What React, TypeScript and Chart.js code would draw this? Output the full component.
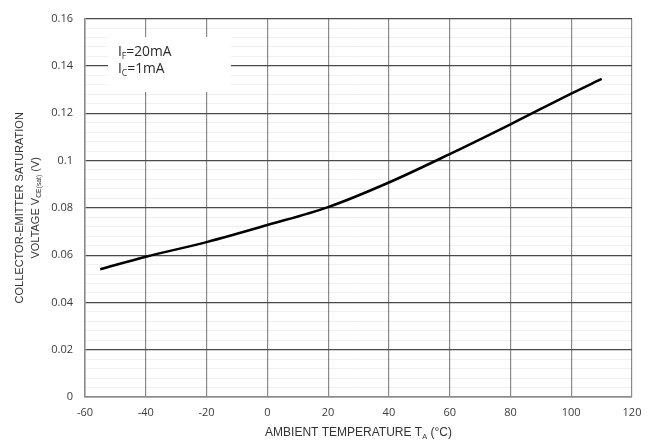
import React, { useEffect, useRef } from "react";
import { Chart, registerables } from "chart.js";

Chart.register(...registerables);

const temperature = [-55, -40, -20, 0, 20, 40, 60, 80, 100, 110];
const vceSat = [0.054, 0.0593, 0.0655, 0.0727, 0.0803, 0.0907, 0.1027, 0.1153, 0.1283, 0.1345];
const xTicks = { min: -60, max: 120, step: 20 };
const yTicks = { min: 0, max: 0.16, step: 0.02, minorStep: 0.004 };
const legendLines = [
  [["I", false], ["F", true], ["=20mA", false]],
  [["I", false], ["C", true], ["=1mA", false]],
] as [string, boolean][][];
const yTitle1 = [["COLLECTOR-EMITTER SATURATION", false]] as [string, boolean][];
const yTitle2 = [["VOLTAGE V", false], ["CE(sat)", true], [" (V)", false]] as [string, boolean][];
const xTitle = [["AMBIENT TEMPERATURE T", false], ["A", true], [" (°C)", false]] as [string, boolean][];

const TITLE_FONT = '"Liberation Sans Narrow", "Liberation Sans", sans-serif';
const TEXT_FONT = '"Open Sans", "Liberation Sans", sans-serif';

function drawRich(
  ctx: CanvasRenderingContext2D,
  parts: [string, boolean][],
  x: number,
  y: number,
  size: number,
  family: string,
  align: "left" | "center"
) {
  const subSize = size * 0.62;
  let total = 0;
  const widths = parts.map(([t, sub]) => {
    ctx.font = `${sub ? subSize : size}px ${family}`;
    const w = ctx.measureText(t).width;
    total += w;
    return w;
  });
  let cx = align === "center" ? x - total / 2 : x;
  ctx.textBaseline = "alphabetic";
  ctx.textAlign = "left";
  parts.forEach(([t, sub], i) => {
    ctx.font = `${sub ? subSize : size}px ${family}`;
    ctx.fillText(t, cx, sub ? y + size * 0.22 : y);
    cx += widths[i];
  });
}

const isMajor = (v: number) => Math.round(v * 1000) % 20 === 0;

export default function App() {
  const ref = useRef<HTMLCanvasElement>(null);
  useEffect(() => {
    document.body.style.margin = "0";
    const canvas = ref.current!;
    const overlay = {
      id: "overlay",
      beforeDatasetsDraw(chart: any) {
        const ctx = chart.ctx as CanvasRenderingContext2D;
        ctx.save();
        ctx.fillStyle = "#ffffff";
        ctx.fillRect(108, 37, 123, 55);
        ctx.fillStyle = "#2a2a2a";
        drawRich(ctx, legendLines[0], 118, 56, 13.8, TEXT_FONT, "left");
        drawRich(ctx, legendLines[1], 118, 73, 13.8, TEXT_FONT, "left");
        ctx.restore();
      },
      afterDraw(chart: any) {
        const ctx = chart.ctx as CanvasRenderingContext2D;
        const a = chart.chartArea;
        const cy = (a.top + a.bottom) / 2;
        ctx.save();
        ctx.fillStyle = "#333";
        ctx.translate(23, cy);
        ctx.rotate(-Math.PI / 2);
        drawRich(ctx, yTitle1, 0, 0, 11, TITLE_FONT, "center");
        ctx.restore();
        ctx.save();
        ctx.fillStyle = "#333";
        ctx.translate(39, cy);
        ctx.rotate(-Math.PI / 2);
        drawRich(ctx, yTitle2, 0, 0, 11, TITLE_FONT, "center");
        ctx.restore();
        ctx.save();
        ctx.fillStyle = "#333";
        drawRich(ctx, xTitle, (a.left + a.right) / 2, 436, 12, TITLE_FONT, "center");
        ctx.restore();
      },
    };
    const chart = new Chart(canvas, {
      type: "scatter",
      data: {
        datasets: [
          {
            data: temperature.map((t, i) => ({ x: t, y: vceSat[i] })),
            showLine: true,
            borderColor: "#000",
            borderWidth: 2.5,
            pointRadius: 0,
            tension: 0.4,
            cubicInterpolationMode: "monotone",
          },
        ],
      },
      options: {
        animation: false,
        responsive: false,
        layout: { padding: { top: 16, right: 22, left: 0, bottom: 0 } },
        plugins: { legend: { display: false }, tooltip: { enabled: false } },
        scales: {
          x: {
            type: "linear",
            min: xTicks.min,
            max: xTicks.max,
            afterFit: (s: any) => {
              s.height = 43;
            },
            ticks: {
              stepSize: xTicks.step,
              padding: 9,
              color: "#3a3a3a",
              font: { family: TEXT_FONT, size: 11 },
            },
            grid: { color: "#8a8a8a", lineWidth: 1.2, drawTicks: false },
            border: { color: "#8a8a8a", width: 1.5 },
          },
          y: {
            type: "linear",
            min: yTicks.min,
            max: yTicks.max,
            afterFit: (s: any) => {
              s.width = 85;
            },
            ticks: {
              stepSize: yTicks.minorStep,
              autoSkip: false,
              padding: 12,
              color: "#3a3a3a",
              font: { family: TEXT_FONT, size: 11 },
              callback: (v: any) => {
                const n = Math.round(Number(v) * 1000) / 1000;
                return isMajor(n) ? String(Number(n.toFixed(2))) : "";
              },
            },
            grid: {
              drawTicks: false,
              color: (c: any) => (isMajor(c.tick.value) ? "#4a4a4a" : "rgba(0,0,0,0.06)"),
              lineWidth: (c: any) => (isMajor(c.tick.value) ? 1.2 : 1),
            },
            border: { color: "#8a8a8a", width: 1.5 },
          },
        },
      },
      plugins: [overlay],
    });
    return () => chart.destroy();
  }, []);
  return (
    <div style={{ width: 654, height: 440 }}>
      <canvas ref={ref} width={654} height={440} />
    </div>
  );
}
